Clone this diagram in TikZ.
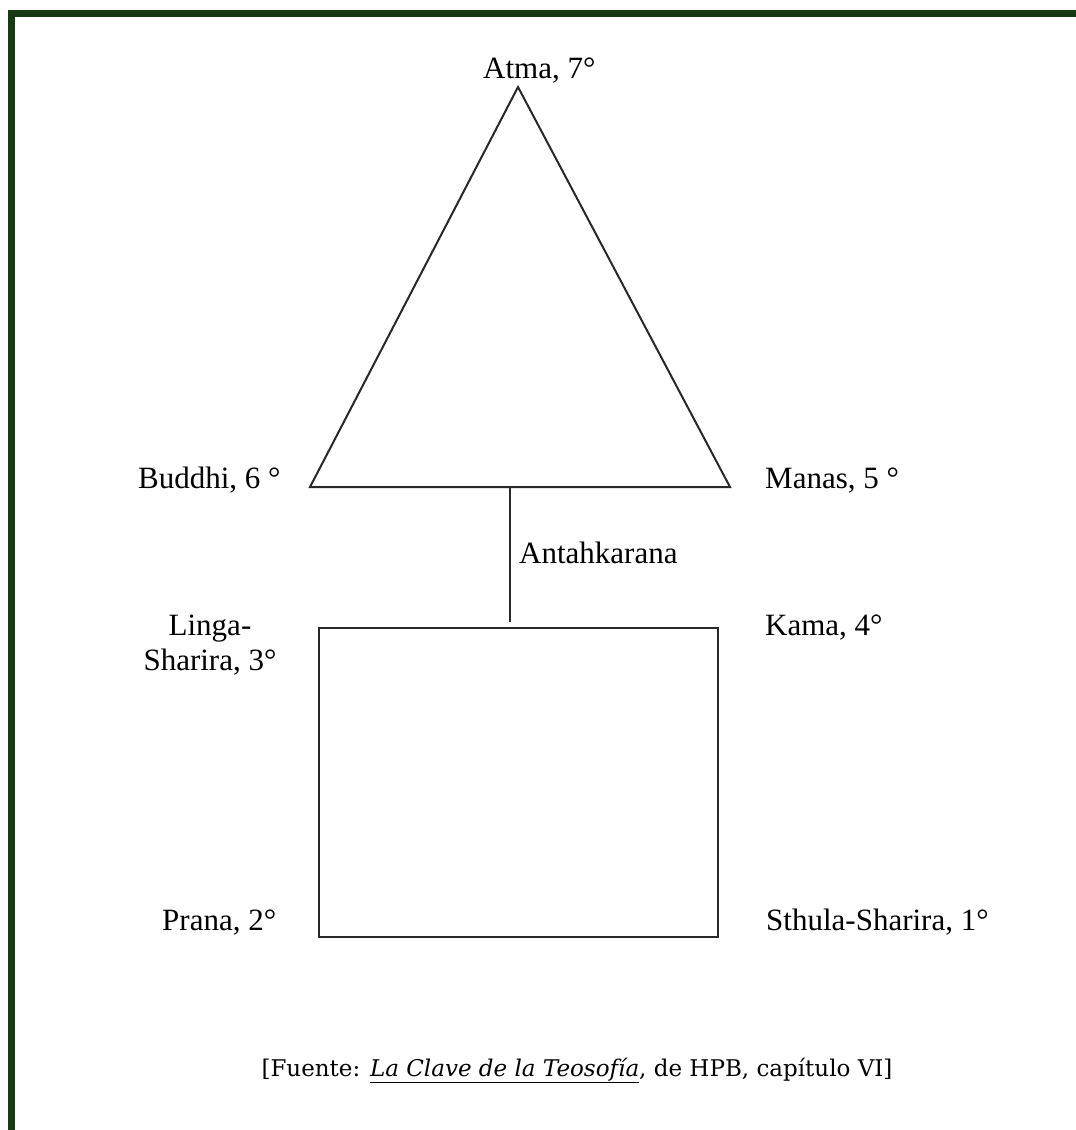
\documentclass[tikz,border=0pt]{standalone}
\usepackage{fontspec}
\setmainfont{Liberation Serif}
\newfontfamily\footfont{DejaVu Serif}
\definecolor{framegreen}{RGB}{22,58,20}
\definecolor{linegray}{RGB}{40,40,40}
\begin{document}
\begin{tikzpicture}[x=1pt,y=-1pt,
  lbl/.style={anchor=base west,inner sep=0pt,font=\fontsize{31}{36}\selectfont},
  shape line/.style={draw=linegray,line width=2pt}]
\useasboundingbox (0,0) rectangle (1076,1130);
\clip (0,0) rectangle (1076,1130);
\fill[white] (0,0) rectangle (1076,1130);
\draw[framegreen,line width=7pt] (11.5,1200) -- (11.5,13.5) -- (1200,13.5);
% triangle
\coordinate (apex) at (518,87);
\coordinate (bl) at (310,487);
\coordinate (br) at (730,487);
\draw[shape line,line join=miter] (apex) -- (bl) -- (br) -- cycle;
% antahkarana line
\coordinate (ltop) at (510,487);
\coordinate (lbot) at (510,622);
\draw[shape line] (ltop) -- (lbot);
% rectangle
\coordinate (r1) at (319,628);
\coordinate (r2) at (718,937);
\draw[shape line] (r1) rectangle (r2);
% labels
\node[lbl] (atma) at (483,78) {Atma, 7°};
\node[lbl] (buddhi) at (138,488) {Buddhi, 6 °};
\node[lbl] (manas) at (765,488) {Manas, 5 °};
\node[lbl] (antah) at (519,563) {Antahkarana};
\node[lbl,anchor=base,align=center] (linga) at (210,670) {Linga-\\[-1pt]Sharira, 3°};
\node[lbl] (kama) at (765,635) {Kama, 4°};
\node[lbl] (prana) at (162,930) {Prana, 2°};
\node[lbl] (sthula) at (766,930) {Sthula-Sharira, 1°};
\node[anchor=base,inner sep=0pt,font=\footfont\fontsize{23}{27}\selectfont] (fuente) at (577,1076)
  {[Fuente: \underline{\textit{La Clave de la Teosofía}}, de HPB, capítulo VI]};
\end{tikzpicture}
\end{document}
